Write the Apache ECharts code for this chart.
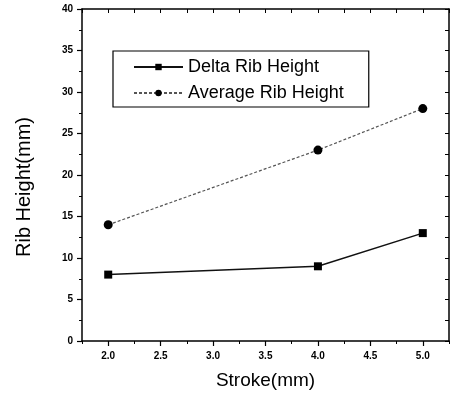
<!DOCTYPE html>
<html>
<head>
<meta charset="utf-8">
<script src="https://cdn.jsdelivr.net/npm/echarts@6/dist/echarts.min.js"></script>
<style>html,body{margin:0;padding:0;background:#fff}#c{width:450px;height:395px}</style>
</head>
<body>
<div id="c"></div>
<script>
const strokes = [2.0, 4.0, 5.0];
const deltaRib = [8, 9, 13];
const avgRib = [14, 23, 28];
const xTickLabels = [2.0, 2.5, 3.0, 3.5, 4.0, 4.5, 5.0];
const seriesNames = ['Delta Rib Height', 'Average Rib Height'];

const FONT = '"Liberation Sans", Arial, sans-serif';
const chart = echarts.init(document.getElementById('c'));
const axLine = { show: true, lineStyle: { color: '#000', width: 1.5 } };
const pairs = (xs, ys) => xs.map((x, i) => [x, ys[i]]);

chart.setOption({
  animation: false,
  backgroundColor: '#fff',
  grid: { left: 82, right: 1, top: 9, bottom: 54, containLabel: false },
  legend: {
    left: 113, top: 51, orient: 'vertical',
    borderColor: '#000', borderWidth: 1.2,
    padding: [7, 25, 5, 20], itemGap: 8,
    itemWidth: 49, itemHeight: 8,
    textStyle: { fontFamily: FONT, fontSize: 18, color: '#000' },
    data: seriesNames
  },
  xAxis: [
    {
      type: 'value', position: 'bottom', min: 1.75, max: 5.25,
      name: 'Stroke(mm)', nameLocation: 'middle', nameGap: 30,
      nameTextStyle: { fontFamily: FONT, fontSize: 19, color: '#000' },
      axisLine: axLine,
      axisTick: { show: true, inside: false, length: 5, customValues: xTickLabels, lineStyle: { color: '#000', width: 1.2 } },
      axisLabel: { show: true, margin: 10, customValues: xTickLabels, fontFamily: FONT, fontSize: 10, fontWeight: 'bold', color: '#000', formatter: v => v.toFixed(1) },
      splitLine: { show: false }
    },
    {
      type: 'value', position: 'bottom', min: 1.75, max: 5.25, interval: 0.25,
      axisLine: { show: false },
      axisTick: { show: true, inside: false, length: 3, lineStyle: { color: '#000', width: 1 } },
      axisLabel: { show: false }, splitLine: { show: false }
    },
    {
      type: 'value', position: 'top', min: 1.75, max: 5.25, interval: 0.25,
      axisLine: axLine,
      axisTick: { show: true, inside: true, length: 4, lineStyle: { color: '#000', width: 1 } },
      axisLabel: { show: false }, splitLine: { show: false }
    }
  ],
  yAxis: [
    {
      type: 'value', position: 'left', min: 0, max: 40, interval: 5,
      name: 'Rib Height(mm)', nameLocation: 'middle', nameGap: 48,
      nameTextStyle: { fontFamily: FONT, fontSize: 20, color: '#000', padding: [0, 24, 0, 0] },
      axisLine: axLine,
      axisTick: { show: true, inside: false, length: 5, lineStyle: { color: '#000', width: 1.2 } },
      minorTick: { show: true, splitNumber: 2, length: 3, lineStyle: { color: '#000', width: 1 } },
      axisLabel: { margin: 9, fontFamily: FONT, fontSize: 10, fontWeight: 'bold', color: '#000' },
      splitLine: { show: false }
    },
    {
      type: 'value', position: 'right', min: 0, max: 40, interval: 2.5,
      axisLine: axLine,
      axisTick: { show: true, inside: true, length: 4, lineStyle: { color: '#000', width: 1 } },
      axisLabel: { show: false }, splitLine: { show: false }
    }
  ],
  series: [
    {
      name: seriesNames[0], type: 'line', xAxisIndex: 0, yAxisIndex: 0,
      data: pairs(strokes, deltaRib),
      symbol: 'rect', symbolSize: 8,
      lineStyle: { color: '#111', width: 1.5, type: 'solid' },
      itemStyle: { color: '#000' }
    },
    {
      name: seriesNames[1], type: 'line', xAxisIndex: 0, yAxisIndex: 0,
      data: pairs(strokes, avgRib),
      symbol: 'circle', symbolSize: 9,
      lineStyle: { color: '#555', width: 1.2, type: [3, 2] },
      itemStyle: { color: '#000' }
    }
  ]
});
</script>
</body>
</html>
